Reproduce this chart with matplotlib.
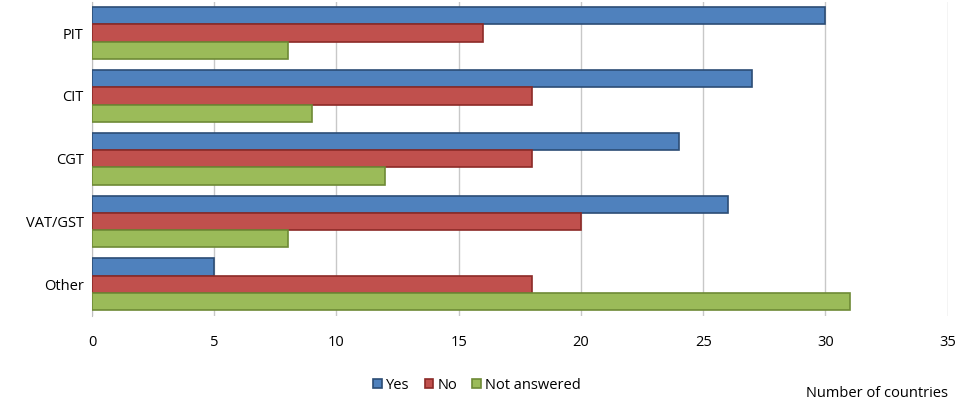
import matplotlib.pyplot as plt
import numpy as np

# data
categories = ['PIT', 'CIT', 'CGT', 'VAT/GST', 'Other']
yes = [30, 27, 24, 26, 5]
no = [16, 18, 18, 20, 18]
not_answered = [8, 9, 12, 8, 31]

plt.rcParams['font.family'] = ['Open Sans', 'DejaVu Sans']

fig = plt.figure(figsize=(9.79, 4.07), dpi=100)
ax = fig.add_axes([0.094, 0.224, 0.874, 0.772])

y = np.arange(len(categories))
h = 0.275
ax.barh(y - h, yes, height=h, color='#4F81BD', edgecolor='#2C4D75', linewidth=1.2, label='Yes', zorder=3)
ax.barh(y, no, height=h, color='#C0504D', edgecolor='#8C2A27', linewidth=1.2, label='No', zorder=3)
ax.barh(y + h, not_answered, height=h, color='#9BBB59', edgecolor='#6E8A36', linewidth=1.2, label='Not answered', zorder=3)

ax.set_xlim(0, 35)
ax.set_ylim(len(categories) - 0.5, -0.5)
ax.set_xticks(range(0, 36, 5))
ax.set_yticks(y)
ax.set_yticklabels(categories)
ax.grid(axis='x', color='#C8C8C8', linewidth=1, zorder=0)

for s in ['top', 'right', 'bottom']:
    ax.spines[s].set_visible(False)
ax.spines['left'].set_color('#BFBFBF')
ax.tick_params(axis='y', length=0, labelsize=10.5, pad=6)
ax.tick_params(axis='x', length=0, labelsize=10.5, pad=14)

ax.legend(loc='upper center', bbox_to_anchor=(0.45, -0.155), ncol=3, frameon=False,
          fontsize=10.5, handlelength=0.6, handleheight=0.6, handletextpad=0.3, columnspacing=1.0)
fig.text(0.968, 0.015, 'Number of countries', ha='right', va='bottom', fontsize=10.5)

plt.savefig('out.png', dpi=100)
